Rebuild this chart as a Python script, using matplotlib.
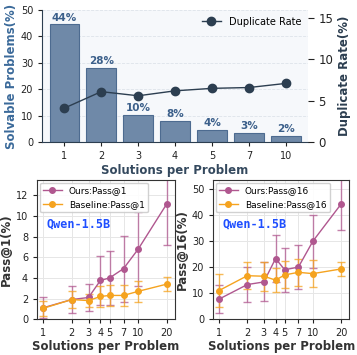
import numpy as np
import matplotlib
matplotlib.use('Agg')
import matplotlib.pyplot as plt

# top panel data
sol_labels = ['1', '2', '3', '4', '5', '7', '10']
solvable = [44.5, 28.0, 10.2, 8.0, 4.6, 3.4, 2.3]
solvable_txt = ['44%', '28%', '10%', '8%', '4%', '3%', '2%']
dup_rate = [4.1, 6.1, 5.6, 6.2, 6.5, 6.6, 7.1]

# bottom panels data
n_sol = [1, 2, 3, 4, 5, 7, 10, 20]
ours_p1 = [1.1, 1.9, 2.1, 3.75, 4.0, 4.9, 6.8, 11.2]
ours_p1_err = [1.0, 1.3, 1.35, 2.4, 2.6, 3.2, 3.6, 4.0]
base_p1 = [1.05, 1.9, 1.8, 2.2, 2.3, 2.3, 2.7, 3.4]
base_p1_err = [0.7, 0.8, 0.6, 1.0, 1.0, 1.0, 1.0, 0.65]
ours_p16 = [7.7, 13.3, 14.3, 23.3, 19.0, 20.0, 30.0, 44.3]
ours_p16_err = [5.5, 6.6, 7.5, 9.0, 8.5, 8.5, 10.2, 10.0]
base_p16 = [11.0, 16.7, 16.5, 15.0, 17.0, 18.0, 17.5, 19.3]
base_p16_err = [6.5, 5.3, 5.5, 4.7, 5.2, 5.3, 5.3, 2.7]

bar_col = '#6f89a8'
bar_edge = '#4d6b90'
navy = '#2c3e50'
ours_col = '#b0578f'
base_col = '#f5a31f'

fig = plt.figure(figsize=(3.57, 3.55), dpi=100)

# ---------- top panel ----------
ax = fig.add_axes([0.118, 0.6, 0.745, 0.372])
ax.set_facecolor('#f6f8fb')
x = np.arange(len(sol_labels))
ax.bar(x, solvable, width=0.8, color=bar_col, edgecolor=bar_edge, linewidth=0.8, zorder=2)
for xi, v, t in zip(x, solvable, solvable_txt):
    ax.text(xi, v + 0.6, t, ha='center', va='bottom', fontsize=7.5, fontweight='bold', color='#3b5f8a')
ax.set_ylim(0, 50)
ax.set_xlim(-0.6, 6.6)
ax.set_xticks(x)
ax.set_xticklabels(sol_labels)
ax.set_yticks([0, 10, 20, 30, 40, 50])
ax.tick_params(labelsize=7, colors='#222222', length=3)
ax.set_xlabel('Solutions per Problem', fontsize=8.5, fontweight='bold', color='#34495e', labelpad=2)
ax.set_ylabel('Solvable Problems(%)', fontsize=8.5, fontweight='bold', color='#3b6a9a', labelpad=2)
ax.grid(axis='y', linestyle='--', color='#dde3ea', linewidth=0.6, zorder=0)
ax.set_axisbelow(True)
for s in ['top', 'right']:
    ax.spines[s].set_visible(False)
ax.spines['left'].set_color(navy)
ax.spines['bottom'].set_color(navy)

ax2 = ax.twinx()
ax2.plot(x, dup_rate, color=navy, marker='o', markersize=6, linewidth=1, label='Duplicate Rate')
ax2.set_ylim(0, 16)
ax2.set_yticks([0, 5, 10, 15])
ax2.tick_params(labelsize=8.5, colors='#222222', length=4)
ax2.set_ylabel('Duplicate Rate(%)', fontsize=8.5, fontweight='bold', color=navy, labelpad=3)
for s in ['top', 'right', 'left', 'bottom']:
    ax2.spines[s].set_visible(False)
ax2.legend(loc='upper right', frameon=False, fontsize=7, handlelength=2, borderaxespad=0.3)


# ---------- bottom panels ----------
def pass_panel(rect, ours, ours_err, base, base_err, tag, ylim, yticks):
    a = fig.add_axes(rect)
    for y, e, c in [(ours, ours_err, ours_col), (base, base_err, base_col)]:
        a.errorbar(n_sol, y, yerr=e, fmt='none', ecolor=c, alpha=0.75,
                   elinewidth=1, capsize=3, zorder=2)
    a.plot(n_sol, ours, color=ours_col, marker='o', markersize=4, linewidth=1,
           label='Ours:' + tag, zorder=3)
    a.plot(n_sol, base, color=base_col, marker='o', markersize=4, linewidth=1,
           label='Baseline:' + tag, zorder=3)
    a.set_xscale('log')
    a.set_xlim(0.865, 24.3)
    a.set_xticks(n_sol)
    a.set_xticklabels([str(n) for n in n_sol])
    a.minorticks_off()
    a.set_ylim(*ylim)
    a.set_yticks(yticks)
    a.grid(color='#e6e6e6', linewidth=0.7)
    a.set_axisbelow(True)
    a.tick_params(labelsize=7, length=3, colors='#222222')
    for s in a.spines.values():
        s.set_color('#333333')
    a.set_xlabel('Solutions per Problem', fontsize=8.5, fontweight='bold', color='#333333', labelpad=1)
    a.set_ylabel(tag + '(%)', fontsize=8.5, fontweight='bold', color='#333333', labelpad=2)
    a.legend(loc='upper left', fontsize=6.5, handlelength=2, borderaxespad=0.3,
             framealpha=0.9, edgecolor='#cccccc')
    a.text(0.07, 0.66, 'Qwen-1.5B', transform=a.transAxes, fontsize=8.5,
           fontweight='bold', color='#1f4fff', family='DejaVu Sans Mono')
    return a


pass_panel([0.104, 0.101, 0.386, 0.392], ours_p1, ours_p1_err, base_p1, base_p1_err,
           'Pass@1', (0, 13.5), [0, 2, 4, 6, 8, 10, 12])
pass_panel([0.597, 0.101, 0.381, 0.392], ours_p16, ours_p16_err, base_p16, base_p16_err,
           'Pass@16', (0, 53.5), [0, 10, 20, 30, 40, 50])

fig.savefig('out.png', dpi=100)
